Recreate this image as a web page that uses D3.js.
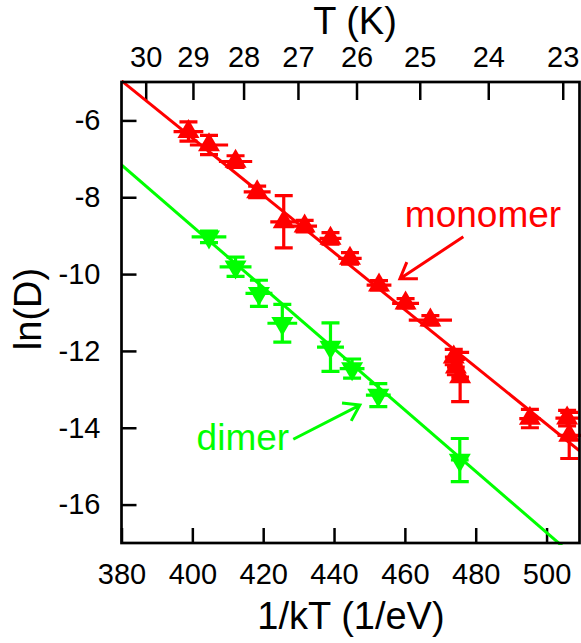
<!DOCTYPE html>
<html lang="en">
<head>
    <meta charset="UTF-8">
    <title>ln(D) vs 1/kT</title>
    <style>
        body { margin: 0; background: #fff; }
        svg { display: block; font-family: "Liberation Sans", Arial, sans-serif; }
        .axis text { font-size: 29px; fill: #000; }
        .axis line { stroke: #000; stroke-width: 2.5px; }
        .title { font-size: 38px; fill: #000; }
    </style>
    <script src="https://d3js.org/d3.v7.min.js"></script>
</head>
<body>
    <svg width="581" height="643"></svg>
    <script>
        // monomer (red, up triangles)
        var monoX    = [398.9, 404.7, 412.2, 418.3, 425.8, 431.7, 439.0, 444.5, 452.7, 460.2, 467.2, 473.8, 474.4, 475.6, 495.3, 505.8, 506.4];
        var monoY    = [-6.29, -6.64, -7.07, -7.86, -8.64, -8.75, -9.07, -9.59, -10.29, -10.76, -11.20, -12.16, -12.42, -12.68, -13.76, -13.75, -14.20];
        var monoXErr = [4.2, 5.4, 4.7, 3.8, 3.8, 3.5, 3.1, 3.3, 3.5, 3.8, 6.1, 2.5, 2.5, 2.5, 3.0, 3.3, 3.3];
        var monoYErr = [0.25, 0.25, 0.15, 0.15, 0.68, 0.15, 0.15, 0.15, 0.12, 0.12, 0.12, 0.2, 0.2, 0.64, 0.24, 0.2, 0.6];

        // dimer (green, down triangles)
        var dimX    = [404.7, 412.2, 418.8, 425.4, 439.0, 445.1, 452.5, 475.5];
        var dimY    = [-9.03, -9.81, -10.50, -11.28, -11.90, -12.46, -13.15, -14.84];
        var dimXErr = [4.9, 4.5, 3.8, 4.2, 3.8, 3.5, 3.5, 2.5];
        var dimYErr = [0.15, 0.25, 0.34, 0.49, 0.63, 0.25, 0.30, 0.56];

        // linear fits, endpoints at the x domain limits
        var fitX     = [380, 509.3];
        var monoFit  = [-4.97, -14.60];
        var dimFit   = [-7.16, -17.47];

        var xTicks = [380, 400, 420, 440, 460, 480, 500];
        var yTicks = [-6, -8, -10, -12, -14, -16];
        var tTicks = [30, 29, 28, 27, 26, 25, 24, 23];
        var kB = 8.617e-5; // eV/K

        var svg = d3.select("svg");

        var x = d3.scaleLinear().domain([380, 509.3]).range([121.5, 579.5]);
        var y = d3.scaleLinear().domain([-17, -5]).range([543, 82]);

        var plotL = x.range()[0], plotR = x.range()[1],
            plotT = y.range()[1], plotB = y.range()[0];

        // axes
        svg.append("g")
            .attr("class", "axis")
            .attr("transform", "translate(0," + plotB + ")")
            .call(d3.axisBottom(x).tickValues(xTicks).tickSize(-15).tickPadding(20))
            .call(function(g) { g.select(".domain").remove(); });

        svg.append("g")
            .attr("class", "axis")
            .attr("transform", "translate(" + plotL + ",0)")
            .call(d3.axisLeft(y).tickValues(yTicks).tickSize(-15).tickPadding(21)
                .tickFormat(function(d) { return "-" + Math.abs(d); }))
            .call(function(g) { g.select(".domain").remove(); });

        // top axis: temperature, placed at 1/kT
        svg.append("g")
            .attr("class", "axis")
            .attr("transform", "translate(0," + plotT + ")")
            .call(d3.axisTop(x)
                .tickValues(tTicks.map(function(t) { return 1 / (kB * t); }))
                .tickFormat(function(d, i) { return tTicks[i]; })
                .tickSize(-18).tickPadding(15))
            .call(function(g) { g.select(".domain").remove(); });

        // clip for fit lines
        svg.append("clipPath").attr("id", "plot-clip")
          .append("rect")
            .attr("x", plotL).attr("y", plotT - 2)
            .attr("width", plotR - plotL).attr("height", plotB - plotT + 4);

        var line = d3.line()
            .x(function(d) { return x(d[0]); })
            .y(function(d) { return y(d[1]); });

        function drawSeries(color, xs, ys, xe, ye, fit, up) {
            var g = svg.append("g");

            g.append("path")
                .datum(fitX.map(function(v, i) { return [v, fit[i]]; }))
                .attr("clip-path", "url(#plot-clip)")
                .attr("fill", "none")
                .attr("stroke", color)
                .attr("stroke-width", 3)
                .attr("d", line);

            var pts = xs.map(function(v, i) {
                return { x: v, y: ys[i], xe: xe[i], ye: ye[i] };
            });

            var cap = 9;
            g.selectAll(".err").data(pts).enter().append("path")
                .attr("fill", "none")
                .attr("stroke", color)
                .attr("stroke-width", 3.2)
                .attr("d", function(d) {
                    var cx = x(d.x), cy = y(d.y),
                        y0 = y(d.y - d.ye), y1 = y(d.y + d.ye);
                    return "M" + x(d.x - d.xe) + "," + cy + "H" + x(d.x + d.xe) +
                        "M" + cx + "," + y0 + "V" + y1 +
                        "M" + (cx - cap) + "," + y0 + "H" + (cx + cap) +
                        "M" + (cx - cap) + "," + y1 + "H" + (cx + cap);
                });

            var w = 11, h = 19;
            g.selectAll(".mark").data(pts).enter().append("path")
                .attr("fill", color)
                .attr("transform", function(d) { return "translate(" + x(d.x) + "," + y(d.y) + ")"; })
                .attr("d", up
                    ? "M0," + (-h * 2 / 3) + "L" + w + "," + (h / 3) + "L" + (-w) + "," + (h / 3) + "Z"
                    : "M0," + (h * 2 / 3) + "L" + w + "," + (-h / 3) + "L" + (-w) + "," + (-h / 3) + "Z");
        }

        drawSeries("#ff0000", monoX, monoY, monoXErr, monoYErr, monoFit, true);
        drawSeries("#00ff00", dimX, dimY, dimXErr, dimYErr, dimFit, false);

        // frame
        svg.append("rect")
            .attr("x", plotL).attr("y", plotT)
            .attr("width", plotR - plotL).attr("height", plotB - plotT)
            .attr("fill", "none").attr("stroke", "#000").attr("stroke-width", 2.7);

        // annotations: label anchor and arrow (from -> tip) in data units
        var notes = [
            { text: "monomer", color: "#ff0000", at: [460.0, -8.77], from: [476.5, -9.03], tip: [458.6, -10.12] },
            { text: "dimer",   color: "#00ff00", at: [401.2, -14.58], from: [428.5, -14.30], tip: [447.3, -13.41] }
        ];

        notes.forEach(function(n) {
            svg.append("text")
                .attr("x", x(n.at[0])).attr("y", y(n.at[1]))
                .attr("font-size", 37)
                .attr("fill", n.color)
                .text(n.text);

            var x0 = x(n.from[0]), y0 = y(n.from[1]),
                x1 = x(n.tip[0]), y1 = y(n.tip[1]);
            var a = Math.atan2(y0 - y1, x0 - x1), len = 18, spread = 34 * Math.PI / 180;
            var p = d3.path();
            p.moveTo(x0, y0); p.lineTo(x1, y1);
            p.moveTo(x1 + len * Math.cos(a - spread), y1 + len * Math.sin(a - spread));
            p.lineTo(x1, y1);
            p.lineTo(x1 + len * Math.cos(a + spread), y1 + len * Math.sin(a + spread));
            svg.append("path")
                .attr("d", p.toString())
                .attr("fill", "none")
                .attr("stroke", n.color)
                .attr("stroke-width", 3);
        });

        // titles
        svg.append("text").attr("class", "title")
            .attr("x", 355).attr("y", 34).attr("text-anchor", "middle")
            .text("T (K)");

        svg.append("text").attr("class", "title")
            .attr("x", 351).attr("y", 629).attr("text-anchor", "middle")
            .text("1/kT (1/eV)");

        svg.append("text").attr("class", "title")
            .attr("transform", "translate(41,309) rotate(-90)")
            .attr("text-anchor", "middle")
            .text("ln(D)");
    </script>
</body>
</html>
